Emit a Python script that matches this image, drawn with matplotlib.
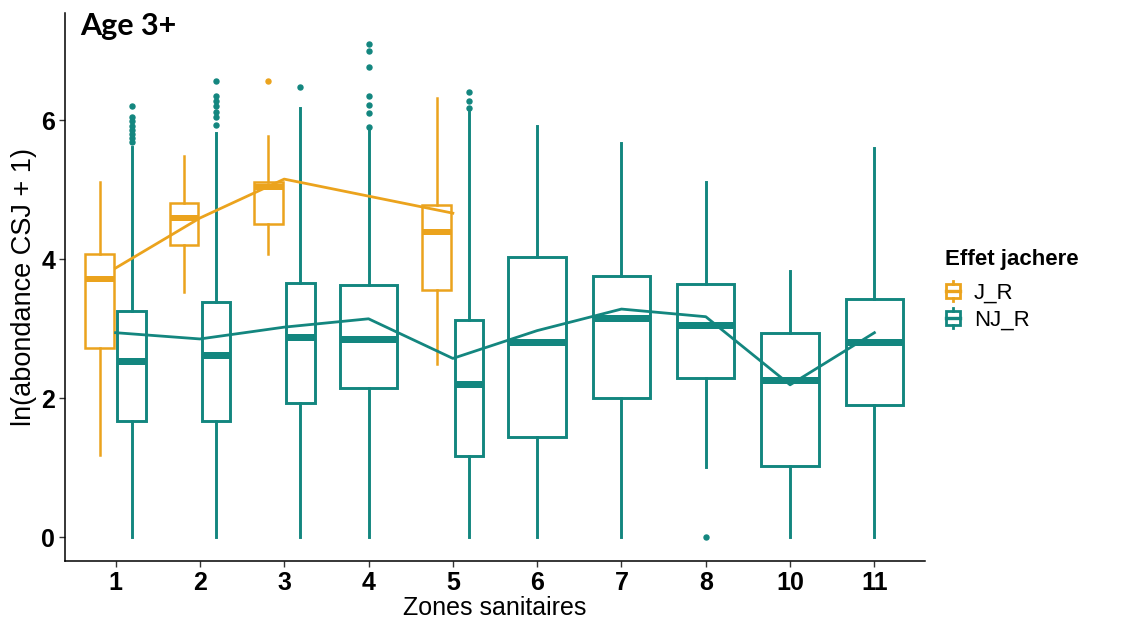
import matplotlib
matplotlib.use("Agg")
import matplotlib.pyplot as plt
from matplotlib.patches import Rectangle
from matplotlib.lines import Line2D
from matplotlib.legend_handler import HandlerBase
import numpy as np

# ---------------- data ----------------
zones = ["1", "2", "3", "4", "5", "6", "7", "8", "10", "11"]

# J_R (jachere) : present in zones 1, 2, 3, 5
jr_zones = ["1", "2", "3", "5"]
jr_whislo = [1.18, 3.53, 4.07, 2.49]
jr_q1 = [2.72, 4.20, 4.50, 3.55]
jr_med = [3.71, 4.59, 5.04, 4.39]
jr_q3 = [4.07, 4.80, 5.11, 4.78]
jr_whishi = [5.11, 5.48, 5.77, 6.32]
jr_fliers = [[], [], [6.56], []]
jr_mean = [3.87, 4.59, 5.15, 4.66]

# NJ_R : all zones
nj_zones = zones
nj_whislo = [0.0, 0.0, 0.0, 0.0, 0.0, 0.0, 0.0, 1.01, 0.0, 0.0]
nj_q1 = [1.67, 1.67, 1.93, 2.14, 1.17, 1.44, 2.00, 2.29, 1.02, 1.90]
nj_med = [2.53, 2.62, 2.88, 2.85, 2.20, 2.81, 3.15, 3.05, 2.26, 2.81]
nj_q3 = [3.25, 3.38, 3.65, 3.63, 3.12, 4.03, 3.76, 3.64, 2.94, 3.42]
nj_whishi = [5.61, 5.81, 6.17, 5.85, 6.12, 5.91, 5.67, 5.11, 3.83, 5.60]
nj_fliers = [
    [6.20, 6.04, 5.98, 5.92, 5.86, 5.80, 5.74, 5.68],
    [6.56, 6.35, 6.27, 6.20, 6.12, 6.04, 5.93],
    [6.47],
    [7.09, 6.99, 6.76, 6.35, 6.22, 6.10, 5.90],
    [6.40, 6.27, 6.17],
    [], [], [0.0], [], [],
]
nj_mean = [2.94, 2.85, 3.02, 3.14, 2.57, 2.97, 3.28, 3.17, 2.19, 2.94]

groups = ["J_R", "NJ_R"]
col_jr = "#EBA31D"
col_nj = "#13867F"

# ---------------- figure ----------------
W, H = 1122, 623
fig = plt.figure(figsize=(W / 100, H / 100), dpi=100)
ax = fig.add_axes([65 / W, 1 - 561 / H, 860 / W, 548 / H])

narrow = ["Liberation Sans Narrow", "Liberation Sans", "DejaVu Sans"]

xpos = {z: i for i, z in enumerate(zones)}
both = set(jr_zones) & set(nj_zones)
full_w, half_w, off = 0.68, 0.34, 0.19


def draw(series_zones, whislo, q1, med, q3, whishi, fliers, color, lw, sign):
    stats, pos, widths = [], [], []
    for i, z in enumerate(series_zones):
        stats.append(dict(med=med[i], q1=q1[i], q3=q3[i], whislo=whislo[i],
                          whishi=whishi[i], fliers=np.array(fliers[i])))
        if z in both:
            pos.append(xpos[z] + sign * off)
            widths.append(half_w)
        else:
            pos.append(xpos[z])
            widths.append(full_w)
    ax.bxp(stats, positions=pos, widths=widths, showcaps=False, patch_artist=True,
           boxprops=dict(facecolor="white", edgecolor=color, linewidth=lw),
           whiskerprops=dict(color=color, linewidth=lw),
           medianprops=dict(color=color, linewidth=lw * 2.4, solid_capstyle="butt"),
           flierprops=dict(marker="o", markerfacecolor=color, markeredgecolor=color,
                           markersize=3.6, linestyle="none"),
           manage_ticks=False, zorder=2)


draw(nj_zones, nj_whislo, nj_q1, nj_med, nj_q3, nj_whishi, nj_fliers, col_nj, 2.1, +1)
draw(jr_zones, jr_whislo, jr_q1, jr_med, jr_q3, jr_whishi, jr_fliers, col_jr, 1.8, -1)

ax.plot([xpos[z] for z in nj_zones], nj_mean, color=col_nj, lw=2.0, zorder=4)
ax.plot([xpos[z] for z in jr_zones], jr_mean, color=col_jr, lw=2.0, zorder=4)

ax.set_xlim(-0.6, len(zones) - 0.4)
ax.set_ylim(-0.345, 7.54)
ax.set_xticks(range(len(zones)))
ax.set_xticklabels(zones)
ax.set_yticks([0, 2, 4, 6])
for lab in ax.get_xticklabels() + ax.get_yticklabels():
    lab.set_family(narrow)
    lab.set_fontweight("bold")
    lab.set_fontsize(18)
ax.tick_params(axis="both", length=4, width=1, color="#333333", pad=3)
for s in ["top", "right"]:
    ax.spines[s].set_visible(False)
for s in ["left", "bottom"]:
    ax.spines[s].set_linewidth(1.1)

ax.set_xlabel("Zones sanitaires", family=narrow, fontsize=18, labelpad=1)
ax.set_ylabel("ln(abondance CSJ + 1)", family=narrow, fontsize=19.5, labelpad=3)

fig.text(80 / W, 1 - 12 / H, "Age 3+", family=["Lato", "DejaVu Sans"],
         fontweight="bold", fontsize=22, va="top", ha="left")


# legend with boxplot glyphs
class BoxHandler(HandlerBase):
    def __init__(self, color):
        super().__init__()
        self.color = color

    def create_artists(self, legend, orig_handle, xdescent, ydescent, width, height,
                       fontsize, trans):
        cx = width / 2 - xdescent
        bw = width * 0.85
        bh = height * 0.7
        y0 = -ydescent + (height - bh) / 2
        r = Rectangle((cx - bw / 2, y0), bw, bh, facecolor="white",
                      edgecolor=self.color, lw=2.0, transform=trans)
        m = Line2D([cx - bw / 2, cx + bw / 2], [y0 + bh / 2] * 2, color=self.color,
                   lw=2.4, transform=trans)
        w1 = Line2D([cx, cx], [y0 + bh, -ydescent + height], color=self.color,
                    lw=2.0, transform=trans)
        w2 = Line2D([cx, cx], [y0, -ydescent], color=self.color,
                    lw=2.0, transform=trans)
        return [r, m, w1, w2]


h_jr = Line2D([], [], color=col_jr)
h_nj = Line2D([], [], color=col_nj)
leg = fig.legend([h_jr, h_nj], groups, loc="upper left",
                 bbox_to_anchor=(945 / W, 1 - 249 / H), frameon=False,
                 title="Effet jachere",
                 handler_map={h_jr: BoxHandler(col_jr), h_nj: BoxHandler(col_nj)},
                 prop=dict(family=["Liberation Sans", "DejaVu Sans"], size=16),
                 handlelength=0.75, handleheight=1.0, handletextpad=0.55,
                 labelspacing=0.2, borderaxespad=0, borderpad=0)
leg.get_title().set_fontweight("bold")
leg.get_title().set_fontsize(16)
leg.get_title().set_family(["Liberation Sans", "DejaVu Sans"])
leg._legend_box.align = "left"
leg._legend_box.sep = 8

fig.savefig("out.png", dpi=100)
